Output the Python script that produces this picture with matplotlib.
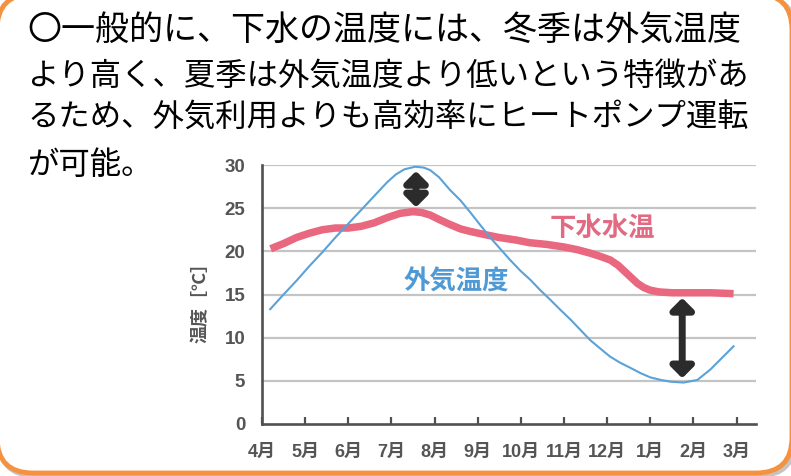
import matplotlib
matplotlib.use("Agg")
import matplotlib.pyplot as plt
from matplotlib.patches import FancyBboxPatch
from matplotlib.transforms import IdentityTransform

# ---------------- data ----------------
month_labels = ["4月", "5月", "6月", "7月", "8月", "9月", "10月", "11月", "12月", "1月", "2月", "3月"]
y_ticks = [0, 5, 10, 15, 20, 25, 30]

air_x = [0.19, 0.5, 0.8, 1.1, 1.4, 1.7, 2.0, 2.3, 2.6, 2.9, 3.1, 3.3, 3.55, 3.75, 3.9,
         4.1, 4.36, 4.6, 4.83, 5.05, 5.29, 5.52, 5.75, 6.0, 6.22, 6.45, 6.68, 6.9, 7.15,
         7.38, 7.61, 7.85, 8.07, 8.3, 8.54, 8.77, 9.0, 9.25, 9.47, 9.77, 10.09, 10.39,
         10.65, 10.93]
air_y = [13.3, 15.0, 16.6, 18.3, 19.9, 21.6, 23.2, 24.8, 26.4, 28.0, 28.9, 29.5, 29.8, 29.7, 29.4,
         28.6, 27.1, 25.9, 24.5, 23.1, 21.6, 20.3, 19.0, 17.7, 16.7, 15.5, 14.4, 13.3, 12.1,
         10.9, 9.7, 8.7, 7.8, 7.1, 6.5, 5.9, 5.4, 5.1, 4.9, 4.8, 5.1, 6.3,
         7.6, 9.0]

sewer_x = [0.2, 0.5, 0.8, 1.1, 1.4, 1.7, 2.0, 2.3, 2.6, 2.9, 3.2, 3.5, 3.7, 3.9, 4.1,
           4.36, 4.6, 4.83, 5.2, 5.5, 5.9, 6.2, 6.6, 7.0, 7.3, 7.6, 7.85, 8.07, 8.25,
           8.4, 8.55, 8.7, 8.85, 9.0, 9.2, 9.5, 10.0, 10.4, 10.93]
sewer_y = [20.3, 20.9, 21.6, 22.1, 22.5, 22.7, 22.7, 22.9, 23.3, 23.9, 24.4, 24.6, 24.5, 24.2, 23.7,
           23.1, 22.6, 22.3, 21.9, 21.6, 21.3, 21.0, 20.8, 20.5, 20.2, 19.8, 19.4, 19.0, 18.4,
           17.7, 17.0, 16.3, 15.8, 15.5, 15.3, 15.2, 15.2, 15.2, 15.1]

# difference arrows (x, low, high)
arrow_x = [3.57, 9.74]
arrow_lo = [25.1, 5.3]
arrow_hi = [29.3, 14.6]

title_lines = [
    "〇一般的に、下水の温度には、冬季は外気温度",
    "より高く、夏季は外気温度より低いという特徴があ",
    "るため、外気利用よりも高効率にヒートポンプ運転",
    "が可能。",
]

# ---------------- figure ----------------
W, H = 791, 476
fig = plt.figure(figsize=(W / 100, H / 100), dpi=100)
fig.patch.set_facecolor("white")

# rounded frame (pixel coordinates, y from bottom)
shadow = FancyBboxPatch((-3, -2), 800, 484, boxstyle="round,pad=0,rounding_size=38",
                        transform=IdentityTransform(), facecolor="#c4c4c4",
                        edgecolor="none", zorder=-3)
frame = FancyBboxPatch((-3, 3), 795, 479, boxstyle="round,pad=0,rounding_size=36",
                       transform=IdentityTransform(), facecolor="white",
                       edgecolor="#F59240", linewidth=3.5, zorder=-2)
fig.add_artist(shadow)
fig.add_artist(frame)

# title text
cjk = ["Noto Sans CJK JP", "DejaVu Sans"]
line_base = [40, 85, 126, 174]
line_fs = [24.5, 22.6, 22.6, 22.6]
for txt, yy, fs in zip(title_lines, line_base, line_fs):
    fig.text(27 / W, 1 - yy / H, txt, ha="left", va="baseline", fontsize=fs,
             family=cjk, color="black")

# axes
left, right, top, bottom = 262, 756, 165, 424
ax = fig.add_axes([left / W, 1 - bottom / H, (right - left) / W, (bottom - top) / H])
ax.set_facecolor("none")
ax.set_xlim(0, 11.45)
ax.set_ylim(0, 30)

for yv in y_ticks[1:]:
    ax.axhline(yv, color="#c4c4c4", lw=1.6, zorder=0)

ax.plot(sewer_x, sewer_y, color="#E9677F", lw=5.4, solid_capstyle="butt", zorder=2)
ax.plot(air_x, air_y, color="#5AA2D8", lw=1.5, zorder=3)

for xa, lo, hi in zip(arrow_x, arrow_lo, arrow_hi):
    ax.annotate("", xy=(xa, hi), xytext=(xa, lo),
                arrowprops=dict(arrowstyle="<|-|>,head_length=0.42,head_width=0.42",
                                lw=5.0, color="#2b2b2b", mutation_scale=16,
                                shrinkA=0, shrinkB=0),
                zorder=4, annotation_clip=False)

ax.text(7.89, 22.7, "下水水温", color="#E26A82", fontsize=19, fontweight="bold",
        family=cjk, ha="center", va="center", zorder=5)
ax.text(4.5, 16.5, "外気温度", color="#4F9AD4", fontsize=19, fontweight="bold",
        family=cjk, ha="center", va="center", zorder=5)

# spines & ticks
for s in ["top", "right"]:
    ax.spines[s].set_visible(False)
for s in ["left", "bottom"]:
    ax.spines[s].set_color("#505050")
    ax.spines[s].set_linewidth(1.9)

ax.set_xticks(range(len(month_labels)))
ax.set_xticklabels(month_labels, fontsize=13, fontweight="bold", color="#555555",
                   family=["Liberation Sans", "Noto Sans CJK JP"])
ax.tick_params(axis="x", direction="in", length=5, width=1.6, color="#505050", pad=14)

ax.set_yticks(y_ticks)
ax.set_yticklabels([str(v) for v in y_ticks], fontsize=13.5, fontweight="bold",
                   color="#555555", family="Liberation Sans")
ax.tick_params(axis="y", length=0, pad=12)

ax.set_ylabel("温度［℃］", fontsize=13, fontweight="bold", color="#555555",
              family=cjk, va="center")
ax.yaxis.set_label_coords(-0.1255, 0.486)

fig.savefig("out.png", dpi=100)
